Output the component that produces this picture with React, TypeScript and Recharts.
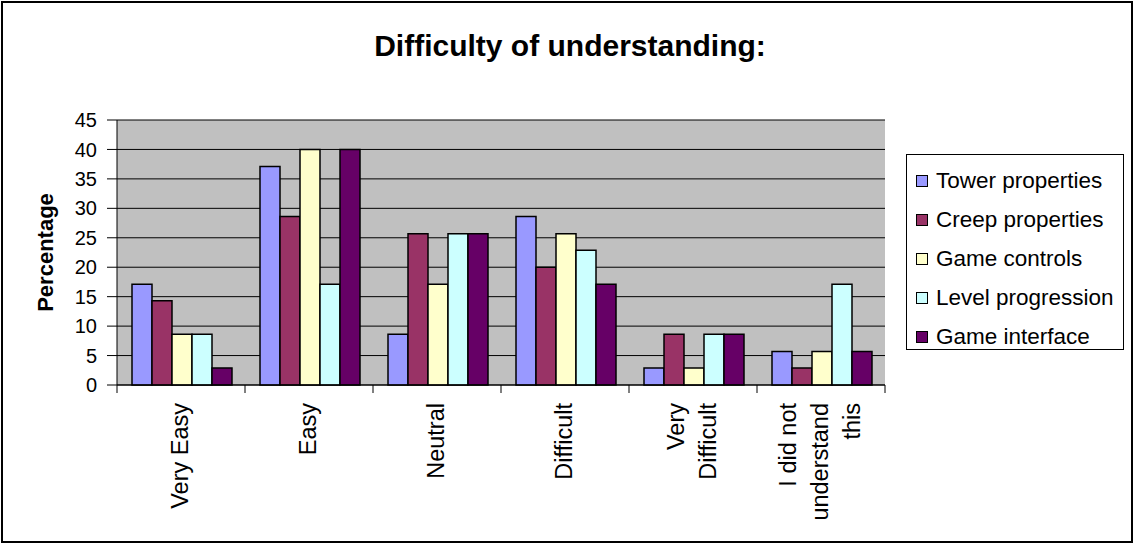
import React from 'react';
import { BarChart, Bar, XAxis, YAxis, CartesianGrid, Legend } from 'recharts';

const categories = ['Very Easy', 'Easy', 'Neutral', 'Difficult', 'Very Difficult', 'I did not understand this'];
const categoryLines = [['Very Easy'], ['Easy'], ['Neutral'], ['Difficult'], ['Very', 'Difficult'], ['I did not', 'understand', 'this']];
const towerProperties = [17.1, 37.1, 8.6, 28.6, 2.9, 5.7];
const creepProperties = [14.3, 28.6, 25.7, 20.0, 8.6, 2.9];
const gameControls = [8.6, 40.0, 17.1, 25.7, 2.9, 5.7];
const levelProgression = [8.6, 17.1, 25.7, 22.9, 8.6, 17.1];
const gameInterface = [2.9, 40.0, 25.7, 17.1, 8.6, 5.7];
const yTicks = [0, 5, 10, 15, 20, 25, 30, 35, 40, 45];

const seriesNames = ['Tower properties', 'Creep properties', 'Game controls', 'Level progression', 'Game interface'];
const seriesKeys = ['tower', 'creep', 'controls', 'level', 'iface'];
const seriesColors = ['#9999FF', '#993366', '#FFFFCC', '#CCFFFF', '#660066'];

const data = categories.map((c, i) => ({
  name: c,
  tower: towerProperties[i],
  creep: creepProperties[i],
  controls: gameControls[i],
  level: levelProgression[i],
  iface: gameInterface[i],
}));

const FONT = '"Liberation Sans", Arial, sans-serif';

const XTick = (props: any) => {
  const { x, y, payload, index, visibleTicksCount, width } = props;
  const band = width && visibleTicksCount ? width / visibleTicksCount : 128;
  const lines = categoryLines[index] || [String(payload.value)];
  const pitch = 32;
  const top = y + 10;
  return (
    <g>
      <line x1={x - band / 2} y1={y - 8} x2={x - band / 2} y2={y} stroke="#000" strokeWidth={1} />
      {index === visibleTicksCount - 1 && (
        <line x1={x + band / 2} y1={y - 8} x2={x + band / 2} y2={y} stroke="#000" strokeWidth={1} />
      )}
      {lines.map((ln: string, i: number) => {
        const cx = x + (i - (lines.length - 1) / 2) * pitch;
        return (
          <text
            key={i}
            transform={`translate(${cx + 7}, ${top}) rotate(-90)`}
            textAnchor="end"
            fontSize={23.5}
            fontFamily={FONT}
            fill="#000"
          >
            {ln}
          </text>
        );
      })}
    </g>
  );
};

const LegendContent = (props: any) => {
  const payload = [...(props.payload || [])].sort(
    (a: any, b: any) => seriesNames.indexOf(a.value) - seriesNames.indexOf(b.value)
  );
  return (
    <div
      style={{
        width: 218,
        height: 196,
        border: '1px solid #000',
        background: '#fff',
        boxSizing: 'border-box',
        paddingTop: 6,
        fontFamily: FONT,
      }}
    >
      {payload.map((p: any, i: number) => (
        <div key={i} style={{ height: 39, display: 'flex', alignItems: 'center', paddingLeft: 9 }}>
          <div
            style={{
              width: 10,
              height: 10,
              background: p.color,
              border: '1px solid #000',
              marginRight: 8,
            }}
          />
          <span style={{ fontSize: 22.5, color: '#000', whiteSpace: 'nowrap' }}>{p.value}</span>
        </div>
      ))}
    </div>
  );
};

export default function App() {
  return (
    <div style={{ position: 'absolute', left: 0, top: 0, width: 1134, height: 544, background: '#fff' }}>
      <div
        style={{
          position: 'absolute',
          left: 1,
          top: 1,
          width: 1132,
          height: 542,
          border: '2px solid #000',
          boxSizing: 'border-box',
        }}
      />
      <div
        style={{
          position: 'absolute',
          left: 3,
          top: 28,
          width: 1134,
          textAlign: 'center',
          fontFamily: FONT,
          fontWeight: 'bold',
          fontSize: 30,
          color: '#000',
          lineHeight: '36px',
        }}
      >
        Difficulty of understanding:
      </div>
      <div style={{ position: 'absolute', left: 0, top: 0 }}>
        <BarChart
          width={1134}
          height={544}
          data={data}
          margin={{ top: 120, right: 249, bottom: 0, left: 17 }}
          barCategoryGap={15}
          barGap={0}
        >
          <CartesianGrid vertical={false} stroke="#000" strokeWidth={1} fill="#C0C0C0" />
          <XAxis
            dataKey="name"
            interval={0}
            tickLine={false}
            axisLine={{ stroke: '#000' }}
            tick={<XTick />}
            height={159}
          />
          <YAxis
            domain={[0, 45]}
            ticks={yTicks}
            interval={0}
            width={100}
            tickSize={10}
            tickMargin={10}
            axisLine={{ stroke: '#000' }}
            tickLine={{ stroke: '#000' }}
            tick={{ fontSize: 20, fill: '#000', fontFamily: FONT }}
            label={(p: any) => {
              const vb = p.viewBox || {};
              const cx = 45;
              const cy = (vb.y || 120) + (vb.height || 265) / 2;
              return (
                <text
                  transform={`translate(${cx}, ${cy}) rotate(-90)`}
                  textAnchor="middle"
                  dominantBaseline="central"
                  fontSize={22}
                  fontWeight="bold"
                  fontFamily={FONT}
                  fill="#000"
                >
                  Percentage
                </text>
              );
            }}
          />
          <Legend
            layout="vertical"
            align="center"
            verticalAlign="middle"
            content={<LegendContent />}
            wrapperStyle={{ position: 'absolute', left: 906, top: 154, width: 218, height: 196 }}
          />
          {seriesKeys.map((k, i) => (
            <Bar
              key={k}
              dataKey={k}
              name={seriesNames[i]}
              fill={seriesColors[i]}
              stroke="#000"
              strokeWidth={1.5}
              isAnimationActive={false}
            />
          ))}
        </BarChart>
      </div>
    </div>
  );
}
